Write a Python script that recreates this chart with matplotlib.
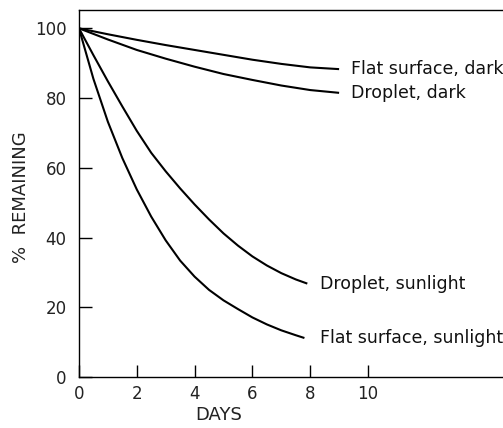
import numpy as np
import matplotlib
matplotlib.use("Agg")
import matplotlib.pyplot as plt

plt.rcParams['font.family'] = ['DejaVu Sans']

# values (days, % remaining)
days_flat_dark = [0, 1, 2, 3, 4, 5, 6, 7, 8, 9]
flat_dark = [100, 98.3, 96.7, 95.2, 93.8, 92.4, 91.0, 89.8, 88.8, 88.3]

days_drop_dark = [0, 1, 2, 3, 4, 5, 6, 7, 8, 9]
drop_dark = [100, 96.8, 93.8, 91.3, 89.0, 86.9, 85.2, 83.6, 82.3, 81.5]

days_drop_sun = [0, 0.5, 1, 1.5, 2, 2.5, 3, 3.5, 4, 4.5, 5, 5.5, 6, 6.5, 7, 7.5, 7.9]
drop_sun = [100, 92.3, 84.8, 77.6, 70.6, 64.3, 59, 54.1, 49.5, 45.2, 41.2, 37.7, 34.6, 32, 29.8, 28, 26.8]

days_flat_sun = [0, 0.5, 1, 1.5, 2, 2.5, 3, 3.5, 4, 4.5, 5, 5.5, 6, 6.5, 7, 7.5, 7.8]
flat_sun = [100, 85.5, 73.2, 62.8, 53.8, 46.0, 39.2, 33.4, 28.8, 25.0, 22.0, 19.5, 17.1, 15.1, 13.4, 12, 11.2]

series = [
    (days_flat_dark, flat_dark, "Flat surface, dark", 9.4),
    (days_drop_dark, drop_dark, "Droplet, dark", 9.4),
    (days_drop_sun, drop_sun, "Droplet, sunlight", 8.35),
    (days_flat_sun, flat_sun, "Flat surface, sunlight", 8.35),
]

x_ticks = [0, 2, 4, 6, 8, 10]
y_ticks = [0, 20, 40, 60, 80, 100]

fig = plt.figure(figsize=(5.03, 4.28), dpi=100)
ax = fig.add_axes([0.157, 0.119, 0.843, 0.858])

for xs, ys, name, tx in series:
    ax.plot(xs, ys, color='black', linewidth=1.5, solid_capstyle='butt', solid_joinstyle='round')
    ax.text(tx, ys[-1], name, fontsize=12.5, ha='left', va='center', color='#111111')

ax.set_xlim(0, 14.67)
ax.set_ylim(0, 105.3)
ax.set_xticks(x_ticks)
ax.set_yticks(y_ticks)
ax.tick_params(axis='both', direction='in', length=9, width=1.0, labelsize=12,
               color='black', labelcolor='#222222')
ax.tick_params(axis='x', pad=6)
ax.tick_params(axis='y', pad=9)
ax.spines['right'].set_visible(False)
for s in ['left', 'bottom', 'top']:
    ax.spines[s].set_linewidth(1.0)

ax.set_ylabel('%  REMAINING', fontsize=13, color='#222222')
ax.yaxis.set_label_coords(-0.115, 0.49)
ax.set_xlabel('DAYS', fontsize=13, color='#222222')
ax.xaxis.set_label_coords(0.33, -0.08)

fig.savefig('out.png', dpi=100, facecolor='white')
